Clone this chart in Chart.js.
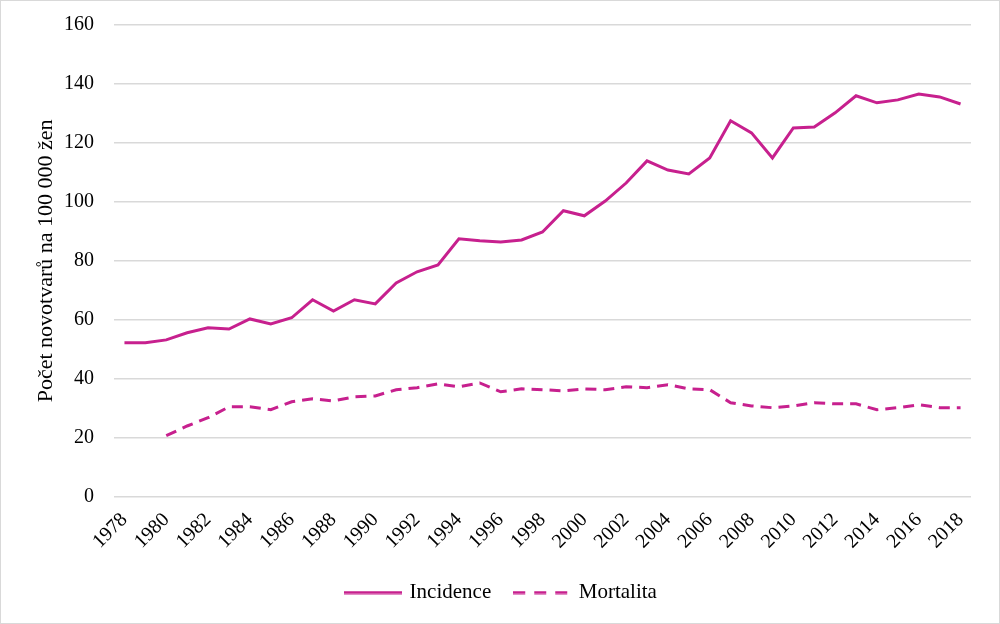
<!DOCTYPE html>
<html><head><meta charset="utf-8">
<script src="https://cdn.jsdelivr.net/npm/chart.js@4"></script>
<style>
html,body{margin:0;padding:0;background:#fff;}
#wrap{position:absolute;left:0;top:0;width:998px;height:622px;border:1px solid #d9d9d9;}
</style></head><body>
<div id="wrap"><canvas id="c"></canvas></div>
<script>
const years = [];
for (let y = 1978; y <= 2018; y++) years.push(String(y));
const incidence = [52.2,52.2,53.2,55.6,57.3,56.9,60.3,58.6,60.7,66.8,63.0,66.8,65.4,72.5,76.3,78.6,87.5,86.8,86.4,87.1,89.8,97.0,95.3,100.3,106.4,113.9,110.8,109.5,114.9,127.5,123.4,114.9,125.1,125.4,130.2,136.0,133.6,134.6,136.6,135.6,133.2];
const mortalita = [null,null,20.7,24.0,26.8,30.5,30.5,29.5,32.2,33.2,32.5,33.9,34.2,36.3,37.0,38.3,37.3,38.6,35.6,36.6,36.3,35.9,36.6,36.3,37.3,37.0,38.0,36.6,36.3,31.9,30.8,30.2,30.8,31.9,31.5,31.5,29.5,30.2,31.2,30.2,30.2];
const yTicks = [0,20,40,60,80,100,120,140,160];
const color = '#C7208E';

function sample(dash) {
  const cv = document.createElement('canvas');
  cv.width = 58; cv.height = 4;
  const g = cv.getContext('2d');
  g.strokeStyle = color; g.lineWidth = 3;
  g.setLineDash(dash);
  g.beginPath(); g.moveTo(0, 2); g.lineTo(58, 2); g.stroke();
  return cv;
}
const samples = [sample([]), sample([12, 9])];

Chart.defaults.font.family = '"Liberation Serif", "Times New Roman", serif';
Chart.defaults.color = '#000';
new Chart(document.getElementById('c'), {
  type: 'line',
  data: {
    labels: years,
    datasets: [
      {label: 'Incidence', data: incidence, borderColor: color, backgroundColor: color, borderWidth: 3, pointRadius: 0, tension: 0},
      {label: 'Mortalita', data: mortalita, borderColor: color, backgroundColor: color, borderWidth: 3, borderDash: [11, 7], pointRadius: 0, tension: 0}
    ]
  },
  options: {
    responsive: true, maintainAspectRatio: false, animation: false,
    layout: {padding: {left: 32, right: 28, top: 24, bottom: 10}},
    plugins: {
      tooltip: {enabled: false},
      legend: {position: 'bottom',
        labels: {usePointStyle: true, pointStyleWidth: 52, padding: 25, font: {size: 21},
          generateLabels: (chart) => {
            const items = Chart.defaults.plugins.legend.labels.generateLabels(chart);
            items.forEach((it, i) => { it.pointStyle = samples[i]; });
            return items;
          }}}
    },
    scales: {
      x: {
        offset: true,
        grid: {display: false},
        border: {display: false},
        ticks: {autoSkip: false, maxRotation: 45, minRotation: 45, font: {size: 20}, padding: 3.5,
          callback: function(v, i) { return i % 2 === 0 ? this.getLabelForValue(v) : ''; }}
      },
      y: {
        min: 0, max: 160,
        afterBuildTicks: (s) => { s.ticks = yTicks.map(v => ({value: v})); },
        afterFit: (s) => { s.width = 81; },
        grid: {color: '#d9d9d9', lineWidth: 1.5, drawTicks: true, tickLength: 16, tickColor: 'rgba(0,0,0,0)'},
        border: {display: false},
        ticks: {font: {size: 20}, padding: 4},
        title: {display: true, text: 'Počet novotvarů na 100 000 žen', font: {size: 22}, padding: {top: 0, bottom: 6}}
      }
    }
  }
});
</script></body></html>
